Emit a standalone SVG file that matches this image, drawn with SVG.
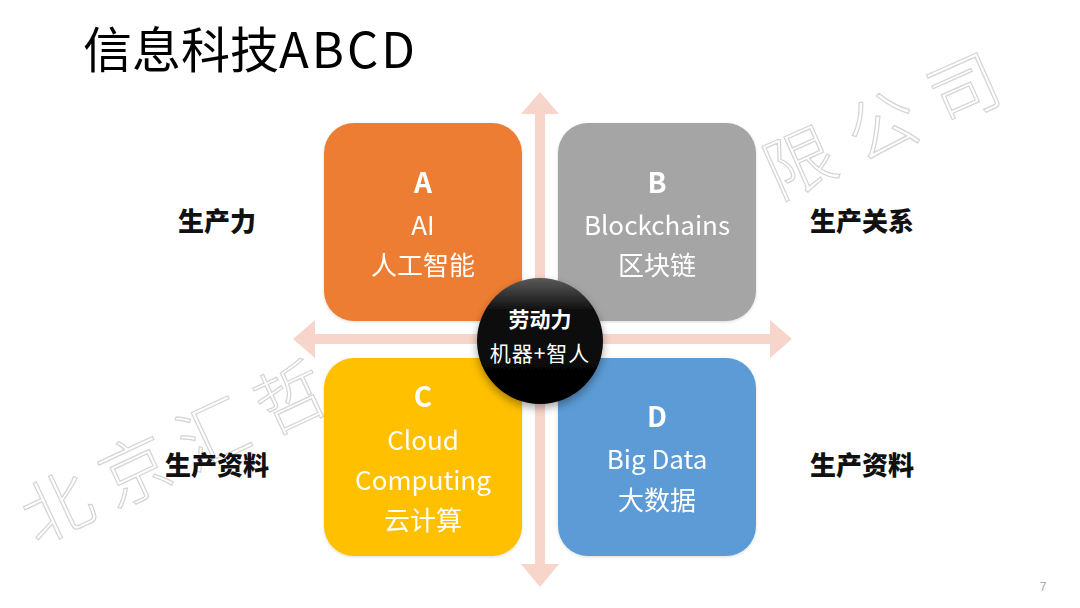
<svg xmlns="http://www.w3.org/2000/svg" width="1080" height="608" viewBox="0 0 1080 608">
<style>
.t{font-family:"Noto Sans CJK SC","Noto Sans",sans-serif;fill:#fff;text-anchor:middle}
.big{font-size:28px;font-weight:bold}
.lab{font-size:26px}
.side{font-family:"Noto Sans CJK SC",sans-serif;font-size:26px;font-weight:900;fill:#111;text-anchor:middle}
.wm{font-family:"Noto Sans CJK SC",sans-serif;font-size:70px;font-weight:300;fill:#fff;stroke:#d4d4d4;stroke-width:1.2}
.axis{fill:#F7D5CA}
</style>
<defs>
<linearGradient id="ball" x1="0" y1="0" x2="0" y2="1">
<stop offset="0" stop-color="#5a5a5a"/>
<stop offset="0.25" stop-color="#111"/>
<stop offset="1" stop-color="#000"/>
</linearGradient>
<filter id="sh" x="-30%" y="-30%" width="160%" height="170%">
<feDropShadow dx="0" dy="4" stdDeviation="4" flood-color="#000" flood-opacity="0.35"/>
</filter>
<filter id="bs" x="-10%" y="-10%" width="120%" height="120%">
<feDropShadow dx="0" dy="1" stdDeviation="1.5" flood-color="#000" flood-opacity="0.15"/>
</filter>
</defs>
<rect width="1080" height="608" fill="#fff"/>
<g id="watermark">
<text class="wm" transform="translate(36,545) rotate(-25)" letter-spacing="16">北京汇哲</text>
<text class="wm" transform="translate(778,200) rotate(-24)" letter-spacing="20">限公司</text>
</g>
<g id="title">
<text x="83" y="68" font-family="'Noto Sans CJK SC',sans-serif" font-size="49" fill="#000">信息科技<tspan letter-spacing="3">ABCD</tspan></text>
</g>
<g id="connectors">
<polygon class="axis" points="540,92 559,114 545,114 545,564 559,564 540,587 521,564 535,564 535,114 521,114"/>
<polygon class="axis" points="293,339 315,320 315,334 770,334 770,320 792,339 770,358 770,344 315,344 315,358"/>
</g>
<g id="nodeA" filter="url(#bs)">
<rect x="324" y="123" width="198" height="198" rx="30" fill="#ED7D31"/>
<text class="t big" x="423" y="193">A</text>
<text class="t lab" x="423" y="235">AI</text>
<text class="t lab" x="423" y="275">人工智能</text>
</g>
<g id="nodeB" filter="url(#bs)">
<rect x="558" y="123" width="198" height="198" rx="30" fill="#A5A5A5"/>
<text class="t big" x="657" y="193">B</text>
<text class="t lab" x="657" y="235">Blockchains</text>
<text class="t lab" x="657" y="275">区块链</text>
</g>
<g id="nodeC" filter="url(#bs)">
<rect x="324" y="358" width="198" height="198" rx="30" fill="#FFC000"/>
<text class="t big" x="423" y="407">C</text>
<text class="t lab" x="423" y="450">Cloud</text>
<text class="t lab" x="423" y="490">Computing</text>
<text class="t lab" x="423" y="530">云计算</text>
</g>
<g id="nodeD" filter="url(#bs)">
<rect x="558" y="358" width="198" height="198" rx="30" fill="#5B9BD5"/>
<text class="t big" x="657" y="427">D</text>
<text class="t lab" x="657" y="469">Big Data</text>
<text class="t lab" x="657" y="510">大数据</text>
</g>
<g id="center">
<circle cx="540" cy="341" r="63" fill="url(#ball)" filter="url(#sh)"/>
<text class="t" x="540" y="327" font-size="21" font-weight="bold">劳动力</text>
<text class="t" x="540" y="361" font-size="21" letter-spacing="1">机器+智人</text>
</g>
<g id="labels">
<text class="side" x="217" y="231">生产力</text>
<text class="side" x="862" y="231">生产关系</text>
<text class="side" x="217" y="475">生产资料</text>
<text class="side" x="862" y="475">生产资料</text>
</g>
<g id="page">
<text x="1043" y="591" font-family="'Liberation Sans',sans-serif" font-size="12" fill="#aaa" text-anchor="middle">7</text>
</g>
</svg>
